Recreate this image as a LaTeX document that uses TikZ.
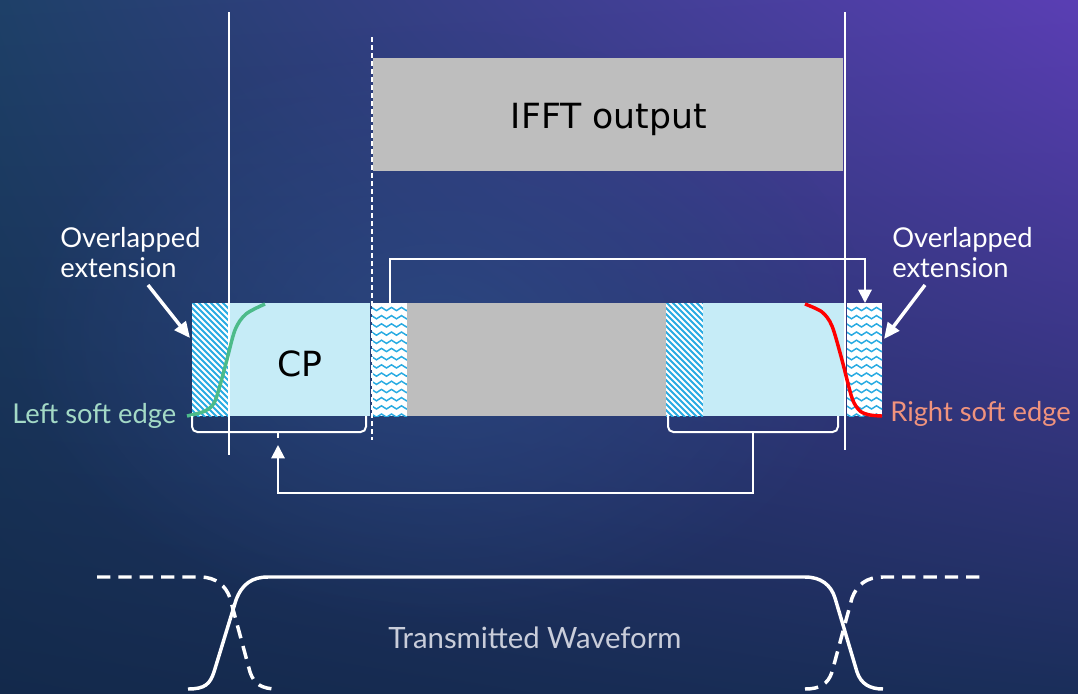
\documentclass[tikz,border=0pt]{standalone}
\usepackage{fontspec}
\setmainfont{Lato}
\newfontfamily\boxfont{DejaVu Sans}
\usetikzlibrary{arrows.meta,calc,shadings,fadings}
\definecolor{bgtl}{HTML}{1E4068}
\definecolor{bgtr}{HTML}{5A3EB4}
\definecolor{bgbl}{HTML}{13294B}
\definecolor{bgbr}{HTML}{1A2E5A}
\definecolor{bgblob}{HTML}{2C4C86}
\definecolor{cpcyan}{HTML}{C6ECF7}
\definecolor{patblue}{HTML}{29ABE2}
\definecolor{ifftgrey}{HTML}{BEBEBE}
\definecolor{softgreen}{HTML}{4CBB8A}
\definecolor{softgreentext}{HTML}{A3D9C6}
\definecolor{softredtext}{HTML}{F0937D}
\definecolor{wavegrey}{HTML}{C9CDDA}
\tikzfading[name=blobfade, inner color=transparent!0, outer color=transparent!100]
\newcommand{\hatchblock}[2]{%
  \begin{scope}
    \clip (#1,303) rectangle (#2,416);
    \fill[white] (#1,303) rectangle (#2,416);
    \foreach \c in {-132,-126,...,48} \draw[stripe] (#1+\c,290) -- ++(160,160);
  \end{scope}}
\newcommand{\waveblock}[2]{%
  \begin{scope}
    \clip (#1,303) rectangle (#2,416);
    \fill[white] (#1,303) rectangle (#2,416);
    \foreach \y in {309,317.2,...,416} \draw[wavy] (#1-3,\y) \foreach \i in {1,...,5} {sin ++(2.5,-1.6) cos ++(2.5,1.6) sin ++(2.5,1.6) cos ++(2.5,-1.6)};
  \end{scope}}

\begin{document}
\begin{tikzpicture}[x=0.75pt,y=-0.75pt,
  stripe/.style={draw=patblue, line width=1.5pt},
  wavy/.style={draw=patblue, line width=1.1pt},
  vline/.style={white, line width=2pt},
  conn/.style={white, line width=1.5pt},
  bigarrow/.style={white, line width=2.6pt, -{Triangle[length=12pt,width=10.5pt]}},
  smallhead/.style={-{Triangle[length=10pt,width=10pt]}},
  wave/.style={white, line width=2.6pt},
  dashwave/.style={wave, dash pattern=on 10pt off 6pt},
  boxtext/.style={font=\boxfont\fontsize{26}{30}\selectfont, text=black, inner sep=0pt},
  note/.style={font=\fontsize{20.5}{22.5}\selectfont, text=white, inner sep=0pt, align=left}]
  \useasboundingbox (0,0) rectangle (1078,693);
  \shade[upper left=bgtl, upper right=bgtr, lower left=bgbl, lower right=bgbr] (0,0) rectangle (1078,693);
  \begin{scope}
    \clip (0,0) rectangle (1078,693);
    \fill[bgblob, opacity=0.7, path fading=blobfade] (440,330) ellipse (430 and 300);
  \end{scope}

  % IFFT output block
  \fill[ifftgrey] (373,58) rectangle (843,171);
  \node[boxtext] (ifft) at (609,119) {IFFT output};

  % symbol with CP and extensions
  \hatchblock{192}{228}
  \fill[cpcyan] (229,303) rectangle (370,416);
  \waveblock{372}{407}
  \fill[ifftgrey] (407,303) rectangle (666,416);
  \hatchblock{666}{703}
  \fill[cpcyan] (703,303) rectangle (845,416);
  \waveblock{847}{882}
  \node[boxtext] (cp) at (300,364) {CP};

  % window boundaries
  \draw[vline] (229,12) -- (229,455);
  \draw[vline] (845,12) -- (845,450);
  \draw[white, line width=1.5pt, dash pattern=on 4pt off 2pt] (372,37) -- (372,440);

  % soft edges
  \draw[softgreen, line width=2.6pt] plot[smooth] coordinates {(187,416) (205,411) (215,401) (225,367) (235,330) (246,314) (265,304)};
  \draw[red, line width=2.6pt] plot[smooth] coordinates {(805,304) (822,312) (832,326) (842,360) (852,398) (860,411) (870,415) (882,416)};

  % copy of the tail to the front
  \coordinate (fb-start) at (390,303);
  \coordinate (fb-end) at (865,303);
  \draw[conn, smallhead] (fb-start) |- (865,259) -- (fb-end);

  % brackets and CP copy
  \draw[conn, rounded corners=4pt] (192,416) |- (278,432) -| (366,416);
  \draw[conn, rounded corners=4pt] (668,416) |- (753,432) -| (838,416);
  \coordinate (lb-mid) at (278,432);
  \coordinate (lb-tip) at (278,445);
  \coordinate (rb-mid) at (753,432);
  \draw[conn] (lb-mid) -- ++(0,6);
  \draw[conn, smallhead] (rb-mid) -- (753,493) -| (lb-tip);

  % labels
  \node[note, anchor=north west] (ovl) at (60,227) {Overlapped\\extension};
  \node[note, anchor=north west] (ovr) at (892,227) {Overlapped\\extension};
  \coordinate (ovl-tail) at (148,285);
  \coordinate (ovl-head) at (190,338);
  \coordinate (ovr-tail) at (925,285);
  \coordinate (ovr-head) at (884,339);
  \draw[bigarrow] (ovl-tail) -- (ovl-head);
  \draw[bigarrow] (ovr-tail) -- (ovr-head);
  \node[note, text=softgreentext, anchor=base west] (sel) at (12,423) {Left soft edge};
  \node[note, text=softredtext, anchor=base west] (ser) at (890,421) {Right soft edge};

  % transmitted waveform
  \draw[wave] (188,689) .. controls (205,689) and (210,684) .. (214,672) -- (236,600) .. controls (242,584) and (252,577) .. (268,577) -- (805,577) .. controls (821,577) and (831,585) .. (835,598) -- (857,672) .. controls (861,684) and (870,689) .. (883,689);
  \draw[dashwave] (97,577) -- (200,577) .. controls (216,577) and (226,586) .. (230,598) -- (250,672) .. controls (254,684) and (262,689) .. (277,689);
  \draw[dashwave] (805,689) .. controls (820,689) and (828,684) .. (832,672) -- (852,598) .. controls (857,585) and (866,577) .. (883,577) -- (982,577);
  \node[note, text=wavegrey, font=\fontsize{22}{26}\selectfont, anchor=base] (txw) at (535,648) {Transmitted Waveform};
\end{tikzpicture}
\end{document}
